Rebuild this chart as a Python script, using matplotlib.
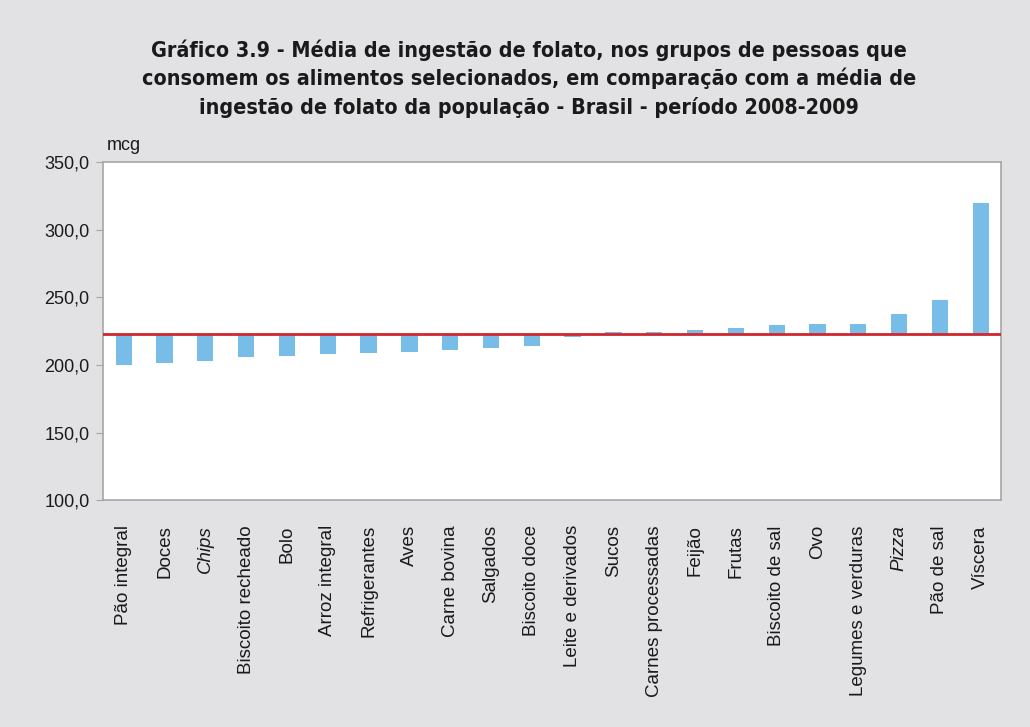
import numpy as np
import matplotlib.pyplot as plt

# ── data ─────────────────────────────────────────────────────────────────────
categories = [
    "Pão integral", "Doces", "Chips", "Biscoito recheado", "Bolo",
    "Arroz integral", "Refrigerantes", "Aves", "Carne bovina", "Salgados",
    "Biscoito doce", "Leite e derivados", "Sucos", "Carnes processadas",
    "Feijão", "Frutas", "Biscoito de sal", "Ovo", "Legumes e verduras",
    "Pizza", "Pão de sal", "Víscera",
]
values = [
    200.2, 201.7, 203.2, 206.1, 206.9, 208.3, 209.1, 209.8, 211.3, 212.8,
    214.2, 221.0, 224.1, 224.1, 225.6, 227.2, 229.4, 230.1, 230.1,
    237.6, 247.9, 319.5,
]
italic_labels = ["Chips", "Pizza"]
population_mean = 222.8

TITLE_LINES = [
    "Gráfico 3.9 - Média de ingestão de folato, nos grupos de pessoas que",
    "consomem os alimentos selecionados, em comparação com a média de",
    "ingestão de folato da população - Brasil - período 2008-2009",
]

BG = "#e2e2e4"
BAR = "#77bde8"
RED = "#d1262d"
SPINE = "#a6a6a6"

plt.rcParams["font.family"] = ["Liberation Sans", "DejaVu Sans"]

fig = plt.figure(figsize=(10.3, 7.27), dpi=100, facecolor=BG)
ax = fig.add_axes([0.1003, 0.312, 0.8717, 0.465])

x = np.arange(len(categories))
heights = np.array(values) - population_mean
ax.bar(x, heights, bottom=population_mean, width=0.4, color=BAR, zorder=2)
ax.axhline(population_mean, color=RED, lw=2, zorder=3)

ax.set_xlim(-0.5, len(categories) - 0.5)
ax.set_ylim(100, 350)
ax.set_yticks(np.arange(100, 351, 50))
ax.set_yticklabels([f"{v:.1f}".replace(".", ",") for v in np.arange(100, 351, 50)],
                   fontsize=13, color="#1a1a1a")
ax.tick_params(axis="y", length=5, color=SPINE, pad=5)

ax.set_xticks(x)
ax.set_xticklabels(categories, rotation=90, fontsize=13.5, color="#1a1a1a")
ax.tick_params(axis="x", length=0, pad=18)
for lbl in ax.get_xticklabels():
    if lbl.get_text() in italic_labels:
        lbl.set_fontstyle("italic")

for s in ax.spines.values():
    s.set_color(SPINE)
    s.set_linewidth(1.2)

ax.text(0.004, 1.025, "mcg", transform=ax.transAxes, fontsize=13,
        color="#1a1a1a", ha="left", va="bottom")

# title: one text per line so the spacing is fixed in pixels
for i, line in enumerate(TITLE_LINES):
    fig.text(0.514, 1 - (50 + 28.5 * i) / 727, line, ha="center", va="center",
             fontsize=15.4, fontweight="bold", fontstretch="condensed",
             color="#1a1a1a", family=["DejaVu Sans"])

fig.savefig("out.png", dpi=100, facecolor=BG)
